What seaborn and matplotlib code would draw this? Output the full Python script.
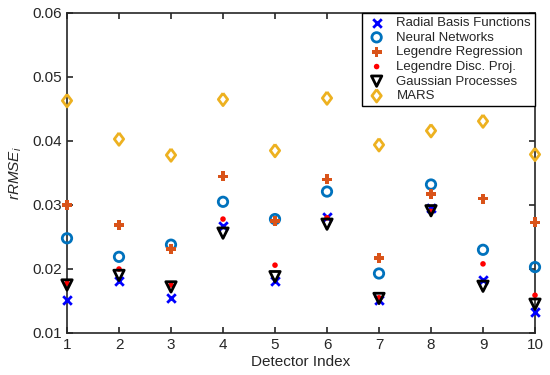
import numpy as np
import pandas as pd
import matplotlib
matplotlib.use("Agg")
import matplotlib.pyplot as plt
import seaborn as sns

detectors = list(range(1, 11))
rbf = [0.0151, 0.0181, 0.0155, 0.0267, 0.0182, 0.0282, 0.0152, 0.0295, 0.0183, 0.0133]
nn = [0.0248, 0.0219, 0.0238, 0.0305, 0.0278, 0.0321, 0.0193, 0.0332, 0.0230, 0.0203]
leg_reg = [0.0300, 0.0269, 0.0231, 0.0345, 0.0275, 0.0340, 0.0217, 0.0317, 0.0310, 0.0273]
leg_dp = [0.0178, 0.0200, 0.0175, 0.0278, 0.0206, 0.0280, 0.0155, 0.0290, 0.0208, 0.0159]
gp = [0.0175, 0.0190, 0.0172, 0.0256, 0.0188, 0.0270, 0.0154, 0.0291, 0.0173, 0.0145]
mars = [0.0463, 0.0403, 0.0378, 0.0465, 0.0385, 0.0467, 0.0394, 0.0416, 0.0431, 0.0379]

series_names = ["Radial Basis Functions", "Neural Networks", "Legendre Regression",
                "Legendre Disc. Proj.", "Gaussian Processes", "MARS"]
series_vals = [rbf, nn, leg_reg, leg_dp, gp, mars]

sns.set_style("ticks")
plt.rcParams['font.family'] = ['Liberation Sans', 'DejaVu Sans']
plt.rcParams['mathtext.fontset'] = 'custom'
plt.rcParams['mathtext.it'] = 'Liberation Sans:italic'
plt.rcParams['mathtext.rm'] = 'Liberation Sans'

fig = plt.figure(figsize=(5.5, 3.75), dpi=100)
ax = fig.add_axes([67/550, 1 - 333/375, (535-67)/550, (333-13)/375])

diamond = [(0, 1), (0.75, 0), (0, -1), (-0.75, 0), (0, 1)]

styles = [
    dict(marker="x", color=(0, 0, 1), s=38, linewidth=2.0),
    dict(marker="o", color=(0, 0.447, 0.741), facecolor="none", edgecolor=(0, 0.447, 0.741), s=46, linewidth=2.0),
    dict(marker="P", color=(0.85, 0.325, 0.098), edgecolor="none", s=52, linewidth=0),
    dict(marker="o", color=(1, 0, 0), edgecolor="none", s=16, linewidth=0),
    dict(marker="v", color="black", facecolor="none", edgecolor="black", s=56, linewidth=2.0),
    dict(marker=diamond, color=(0.929, 0.694, 0.125), facecolor="none", edgecolor=(0.929, 0.694, 0.125), s=80, linewidth=2.0),
]

for name, vals, st in zip(series_names, series_vals, styles):
    df = pd.DataFrame({"Detector": detectors, "rRMSE": vals})
    sns.scatterplot(data=df, x="Detector", y="rRMSE", ax=ax, label=name, clip_on=False, zorder=3, **st)

ax.set_xlim(1, 10)
ax.set_ylim(0.01, 0.06)
ax.set_xticks(detectors)
ax.set_yticks([0.01, 0.02, 0.03, 0.04, 0.05, 0.06])
ax.set_yticklabels(["0.01", "0.02", "0.03", "0.04", "0.05", "0.06"])
ax.tick_params(direction="in", top=True, right=True, labelsize=11, length=4, width=1.2, color="#262626")
for sp in ax.spines.values():
    sp.set_linewidth(1.2)
    sp.set_color("#262626")
    sp.set_visible(True)
ax.set_xlabel("Detector Index", fontsize=11, labelpad=2)
ax.set_ylabel(r"$rRMSE_i$", fontsize=11, labelpad=6)

leg = ax.legend(loc="upper right", borderaxespad=0, fontsize=9.5, frameon=True, fancybox=False,
                edgecolor="black", framealpha=1, labelspacing=0.18, handletextpad=0.7,
                borderpad=0.3, handlelength=1.6)
leg.get_frame().set_linewidth(1.0)

fig.savefig("out.png", dpi=100)
